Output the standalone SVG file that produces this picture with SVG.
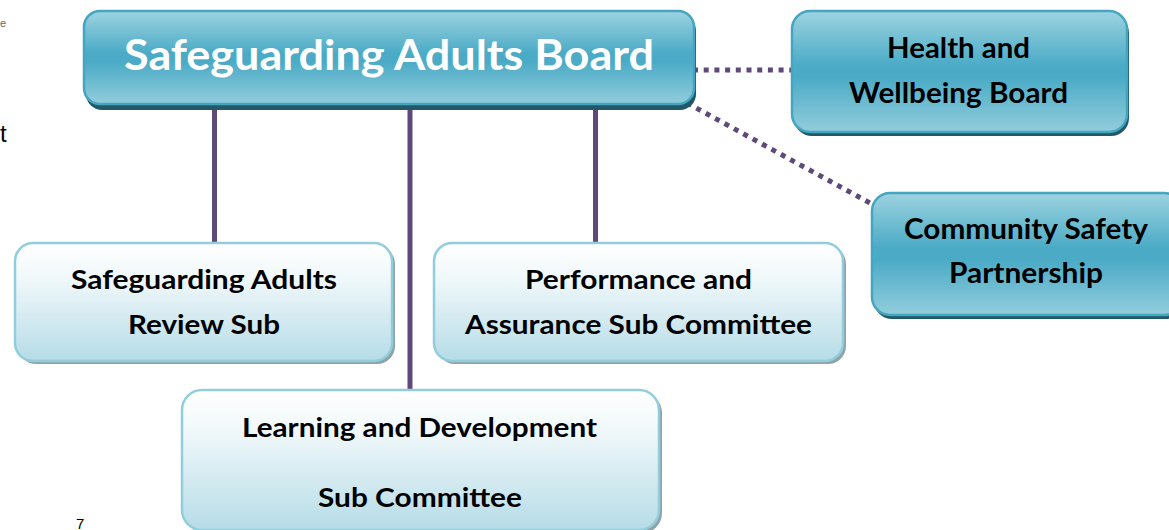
<svg xmlns="http://www.w3.org/2000/svg" width="1169" height="530" viewBox="0 0 1169 530">
<defs>
<linearGradient id="gBlue" x1="0" y1="0" x2="0" y2="1">
<stop offset="0" stop-color="#9dd3e1"/>
<stop offset="0.45" stop-color="#4babc6"/>
<stop offset="0.55" stop-color="#4babc6"/>
<stop offset="1" stop-color="#92cddc"/>
</linearGradient>
<linearGradient id="gLight" x1="0" y1="0" x2="0" y2="1">
<stop offset="0" stop-color="#ffffff"/>
<stop offset="0.3" stop-color="#f0f8fa"/>
<stop offset="1" stop-color="#b6dce7"/>
</linearGradient>
<style>
.blue{fill:url(#gBlue);stroke:#46a5bf;stroke-width:2.5}
.blueSh{fill:#215968}
.light{fill:url(#gLight);stroke:#92cddc;stroke-width:2.5}
.lightSh{fill:#8ea3aa}
.t{font-family:Lato,"Open Sans","Liberation Sans",sans-serif;font-weight:bold;fill:#000;text-anchor:middle}
.title{font-family:Lato,"Open Sans","Liberation Sans",sans-serif;font-weight:bold;fill:#fff;text-anchor:middle;font-size:42px}
.solid{stroke:#5f497a;stroke-width:5;fill:none}
.dot{stroke:#5f497a;stroke-width:5;fill:none;stroke-dasharray:5 5.7}
.stray{font-family:"Liberation Sans",Arial,sans-serif}
</style>
</defs>

<text class="stray" x="0" y="27" font-size="11" fill="#666">e</text>
<text class="stray" x="0" y="142" font-size="24" fill="#000">t</text>
<text class="stray" x="76" y="529" font-size="15" fill="#000">7</text>

<g id="connectors">
<line class="solid" x1="214.5" y1="104" x2="214.5" y2="243"/>
<line class="solid" x1="410" y1="104" x2="410" y2="390"/>
<line class="solid" x1="595.5" y1="104" x2="595.5" y2="243"/>
<line class="dot" x1="693" y1="70" x2="797" y2="70"/>
<line class="dot" x1="687" y1="103" x2="870" y2="203"/>
</g>

<g id="sab">
<rect class="blueSh" x="86" y="15" width="610" height="95" rx="16"/>
<rect class="blue" x="84" y="11" width="610" height="93" rx="16"/>
<text class="title" x="389" y="70" textLength="530" lengthAdjust="spacingAndGlyphs">Safeguarding Adults Board</text>
</g>

<g id="hwb">
<rect class="blueSh" x="794" y="15" width="335" height="121" rx="18"/>
<rect class="blue" x="792" y="11" width="335" height="121" rx="18"/>
<text class="t" x="958.5" y="58" font-size="28" textLength="143" lengthAdjust="spacingAndGlyphs">Health and</text>
<text class="t" x="958.5" y="103" font-size="28" textLength="219" lengthAdjust="spacingAndGlyphs">Wellbeing Board</text>
</g>

<g id="csp">
<rect class="blueSh" x="874" y="197" width="310" height="122" rx="18"/>
<rect class="blue" x="872" y="193" width="310" height="122" rx="18"/>
<text class="t" x="1026" y="239" font-size="28" textLength="244" lengthAdjust="spacingAndGlyphs">Community Safety</text>
<text class="t" x="1026" y="283" font-size="28" textLength="154" lengthAdjust="spacingAndGlyphs">Partnership</text>
</g>

<g id="sar">
<rect class="lightSh" x="18" y="246" width="377" height="118" rx="18"/>
<rect class="light" x="15" y="243" width="377" height="118" rx="18"/>
<text class="t" x="204" y="289" font-size="26" textLength="266" lengthAdjust="spacingAndGlyphs">Safeguarding Adults</text>
<text class="t" x="204" y="334" font-size="26" textLength="152" lengthAdjust="spacingAndGlyphs">Review Sub</text>
</g>

<g id="pac">
<rect class="lightSh" x="437" y="246" width="409" height="118" rx="18"/>
<rect class="light" x="434" y="243" width="409" height="118" rx="18"/>
<text class="t" x="638.5" y="289" font-size="26" textLength="227" lengthAdjust="spacingAndGlyphs">Performance and</text>
<text class="t" x="638.5" y="334" font-size="26" textLength="347" lengthAdjust="spacingAndGlyphs">Assurance Sub Committee</text>
</g>

<g id="ldc">
<rect class="lightSh" x="185" y="393" width="477" height="140" rx="20"/>
<rect class="light" x="182" y="390" width="477" height="140" rx="20"/>
<text class="t" x="419.5" y="437" font-size="26" textLength="355" lengthAdjust="spacingAndGlyphs">Learning and Development</text>
<text class="t" x="420" y="507" font-size="26" textLength="204" lengthAdjust="spacingAndGlyphs">Sub Committee</text>
</g>
</svg>
